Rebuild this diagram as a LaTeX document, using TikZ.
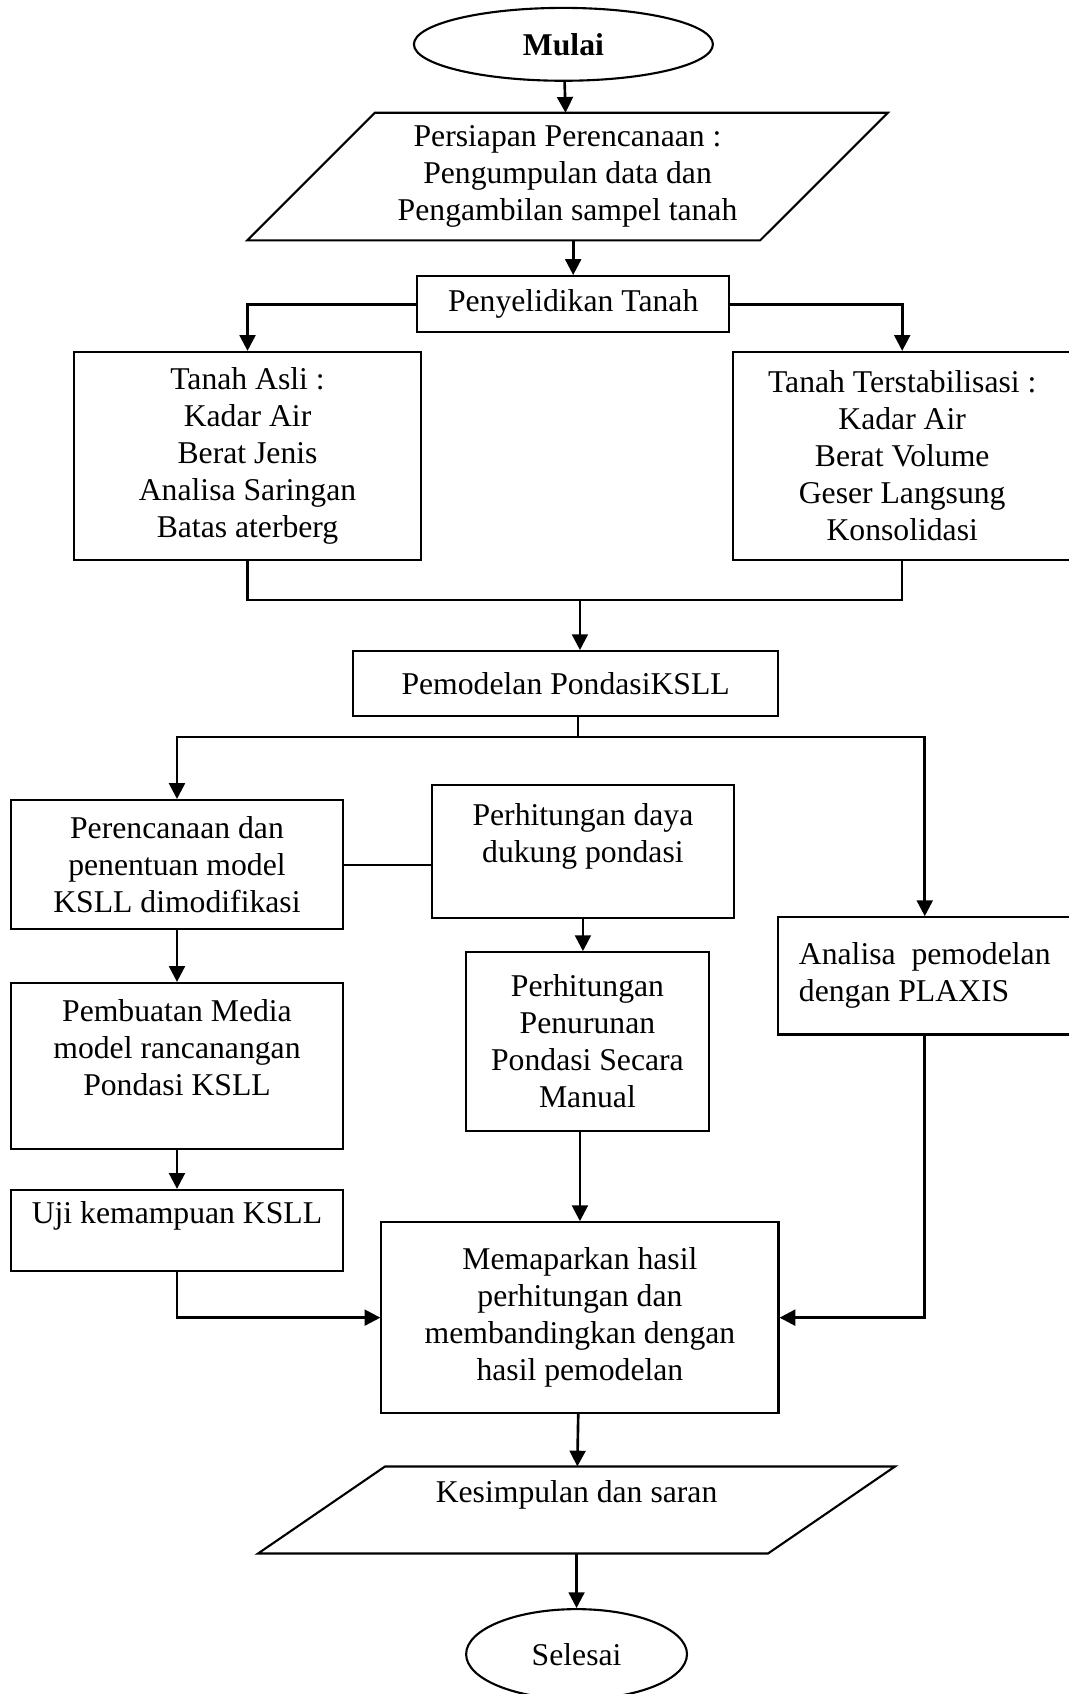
\documentclass[tikz,border=0pt]{standalone}
\usepackage{fontspec}
\setmainfont{Liberation Serif}
\usepackage{tikz}
\usetikzlibrary{arrows.meta,positioning,shapes.geometric,calc}
\tikzset{
  base/.style={font=\fontsize{12}{14}\selectfont,align=center,inner sep=0pt},
  block/.style={base,draw,rectangle},
  terminal/.style={base,draw,ellipse},
  io/.style={base,rectangle},
  flow/.style={-{Triangle[length=2.1mm,width=2.1mm]},line width=1pt},
  link/.style={}
}

\begin{document}
\begin{tikzpicture}[x=1mm,y=1mm,line width=0.8pt]
  \useasboundingbox (0,0) rectangle (142.2,-225.5);
  % top
  \node[terminal,minimum width=39.8mm,minimum height=9.7mm] (start) at (75.0,-5.9) {\textbf{Mulai}};
  \node[io,minimum width=68mm,minimum height=16.7mm] (prep) at (75.55,-23.5)
    {Persiapan Perencanaan :\\Pengumpulan data dan\\Pengambilan sampel tanah};
  \draw[link] ([xshift=8.5mm]prep.north west) -- ([xshift=8.5mm]prep.north east)
    -- ([xshift=-8.5mm]prep.south east) -- ([xshift=-8.5mm]prep.south west) -- cycle;
  \node[block,minimum width=41.6mm,minimum height=7.5mm] (survey) at (76.3,-40.5) {Penyelidikan Tanah};
  \node[block,minimum width=46.2mm,minimum height=27.7mm] (asli) at (32.95,-60.7)
    {Tanah Asli :\\Kadar Air\\Berat Jenis\\Analisa Saringan\\Batas aterberg};
  \node[block,minimum width=45mm,minimum height=27.7mm] (stabil) at (120.1,-60.7)
    {Tanah Terstabilisasi :\\Kadar Air\\Berat Volume\\Geser Langsung\\Konsolidasi};
  \node[block,minimum width=56.6mm,minimum height=8.65mm] (model) at (75.3,-91.0) {Pemodelan PondasiKSLL};
  % middle
  \node[block,minimum width=44.2mm,minimum height=17.2mm] (plan) at (23.56,-115.1)
    {Perencanaan dan\\penentuan model\\KSLL dimodifikasi};
  \node[block,minimum width=40.1mm,minimum height=17.7mm] (capacity) at (77.6,-113.4)
    {Perhitungan daya\\dukung pondasi\\\mbox{}};
  \node[block,align=left,minimum width=39.1mm,minimum height=15.6mm] (plaxis) at (123.1,-129.9)
    {Analisa\ \ pemodelan\\dengan PLAXIS};
  \node[block,minimum width=32.35mm,minimum height=23.8mm] (settle) at (78.2,-138.65)
    {Perhitungan\\Penurunan\\Pondasi Secara\\Manual};
  \node[block,minimum width=44.2mm,minimum height=22.1mm] (media) at (23.56,-141.9)
    {Pembuatan Media\\model rancanangan\\Pondasi KSLL\\\mbox{}};
  \node[block,align=left,minimum width=44.2mm,minimum height=10.8mm] (test) at (23.56,-163.8)
    {Uji kemampuan KSLL\\\mbox{}};
  % bottom
  \node[block,minimum width=52.85mm,minimum height=25.4mm] (result) at (77.2,-175.4)
    {Memaparkan hasil\\perhitungan dan\\membandingkan dengan\\hasil pemodelan};
  \node[io,minimum width=67.6mm,minimum height=11.3mm] (concl) at (76.75,-201.0)
    {Kesimpulan dan saran\\\mbox{}};
  \draw[link] ([xshift=8.45mm]concl.north west) -- ([xshift=8.45mm]concl.north east)
    -- ([xshift=-8.45mm]concl.south east) -- ([xshift=-8.45mm]concl.south west) -- cycle;
  \node[terminal,minimum width=29.4mm,minimum height=12mm] (finish) at (76.75,-220.2) {Selesai};
  % connectors
  \coordinate (j1) at (77.2,-79.9);
  \coordinate (j2) at (76.9,-98.1);
  \draw[flow] (start) -- (prep);
  \draw[flow] (prep.south -| survey) -- (survey);
  \draw[flow] (survey) -| (asli);
  \draw[flow] (survey) -| (stabil);
  \draw[link] (asli) |- (j1) -| (stabil);
  \draw[flow] (j1) -- (j1 |- model.north);
  \draw[link] (model.south -| j2) -- (j2);
  \draw[flow] (j2) -| (plan);
  \draw[flow] (j2) -| (plaxis);
  \draw[link] (plan.east) -- (plan.east -| capacity.west);
  \draw[flow] (capacity) -- (capacity |- settle.north);
  \draw[flow] (plan) -- (media);
  \draw[flow] (media) -- (test);
  \draw[flow] (settle.south -| result) -- (result);
  \draw[flow] (test) |- (result);
  \draw[flow] (plaxis) |- (result);
  \draw[flow] (result) -- (concl);
  \draw[flow] (concl) -- (finish);
\end{tikzpicture}
\end{document}
